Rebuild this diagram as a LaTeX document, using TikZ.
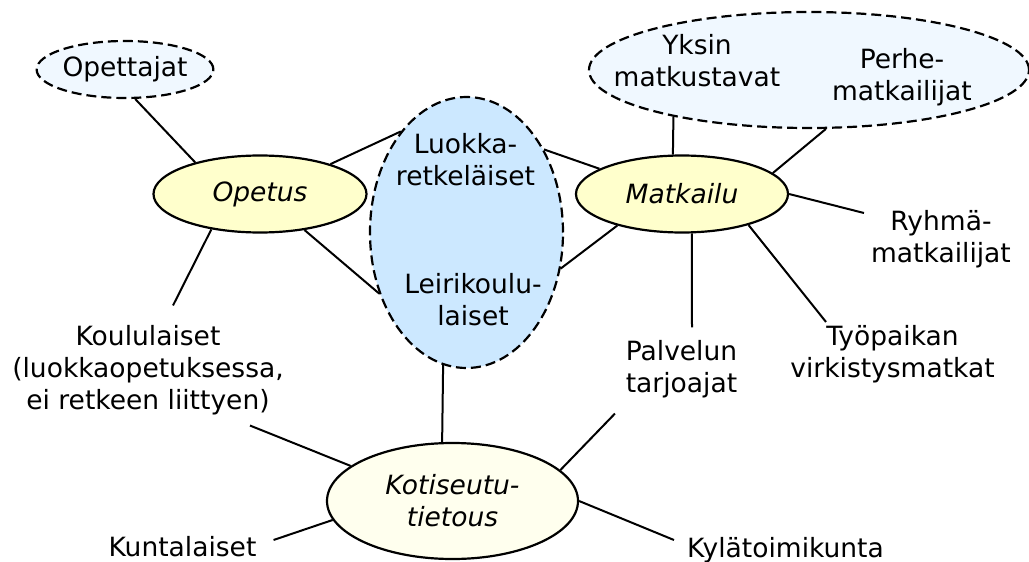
\documentclass[tikz,border=0pt]{standalone}
\usepackage{fontspec}
\setmainfont{DejaVu Sans}
\usetikzlibrary{shapes.geometric}
\definecolor{lyellow}{HTML}{FFFFCC}
\definecolor{pyellow}{HTML}{FFFFEE}
\definecolor{lblue}{HTML}{CCE8FF}
\definecolor{pblue}{HTML}{F0F8FF}
\newcommand{\bigfont}{\fontsize{26.5}{32}\selectfont}

\begin{document}
\begin{tikzpicture}[x=1pt,y=-1pt,
  topic/.style={ellipse,draw,line width=2.2pt,fill=lyellow,inner sep=0pt,
                align=center,font=\bigfont\itshape},
  group/.style={ellipse,draw,dash pattern=on 10pt off 5pt,line width=2.2pt,
                fill=pblue,inner sep=0pt,font=\bigfont},
  lbl/.style={align=center,inner sep=0pt,font=\bigfont},
  link/.style={line width=2pt}
]
\useasboundingbox (0,0) rectangle (1029,562);
\node[group,minimum width=174pt,minimum height=57pt] (opettajat) at (125,69.5) {Opettajat};
\node[group,minimum width=440pt,minimum height=116pt] (matkustajat) at (809,70) {};
\node[lbl] (yksin) at (697,61) {Yksin\\matkustavat};
\node[lbl] (perhe) at (902,77) {Perhe-\\matkailijat};
\node[group,fill=lblue,minimum width=193pt,minimum height=271pt] (retkelaiset) at (466.5,232.5) {};
\node[lbl] (luokka) at (465.5,160) {Luokka-\\retkeläiset};
\node[lbl] (leiri) at (473,300) {Leirikoulu-\\laiset};
\node[topic,minimum width=213pt,minimum height=77pt] (opetus) at (260,194) {Opetus};
\node[topic,minimum width=212pt,minimum height=77pt] (matkailu) at (682,194) {Matkailu};
\node[topic,fill=pyellow,minimum width=251pt,minimum height=116pt] (kotiseutu) at (452.5,501) {Kotiseutu-\\tietous};

\node[lbl] (koululaiset) at (148,370.5) {Koululaiset\\(luokkaopetuksessa,\\ei retkeen liittyen)};
\node[lbl] (kuntalaiset) at (182.5,547) {Kuntalaiset};
\node[lbl] (palvelun) at (681.5,369.5) {Palvelun\\tarjoajat};
\node[lbl] (tyopaikan) at (892.5,354) {Työpaikan\\virkistysmatkat};
\node[lbl] (ryhma) at (941,239.5) {Ryhmä-\\matkailijat};
\node[lbl] (kyla) at (785.5,550) {Kylätoimikunta};

\draw[link] (opettajat.289) -- (opetus.154);
\draw[link] (opetus.23) -- (retkelaiset.123);
\draw[link] (opetus.321) -- (retkelaiset.215);
\draw[link] (opetus.216) -- ([shift={(25,-20)}]koululaiset.north);
\draw[link] (matkailu.163) -- (retkelaiset.47);
\draw[link] (matkailu.206) -- (retkelaiset.339);
\draw[link] (matkailu.103) -- (matkustajat.199);
\draw[link] (matkailu.13) -- (matkustajat.286);
\draw[link] (matkailu.0) -- ([shift={(-7,-26.5)}]ryhma.west);
\draw[link] (matkailu.284) -- ([shift={(10.5,-13)}]palvelun.north);
\draw[link] (matkailu.335) -- ([shift={(-66.5,-3)}]tyopaikan.north);
\draw[link] (retkelaiset.260) -- (kotiseutu.100);
\draw[link] ([shift={(102,10)}]koululaiset.south) -- (kotiseutu.161);
\draw[link] ([shift={(17,-7)}]kuntalaiset.east) -- (kotiseutu.189);
\draw[link] ([shift={(-66.5,15)}]palvelun.south) -- (kotiseutu.16);
\draw[link] (kotiseutu.0) -- ([shift={(-13,-10)}]kyla.west);
\end{tikzpicture}
\end{document}
